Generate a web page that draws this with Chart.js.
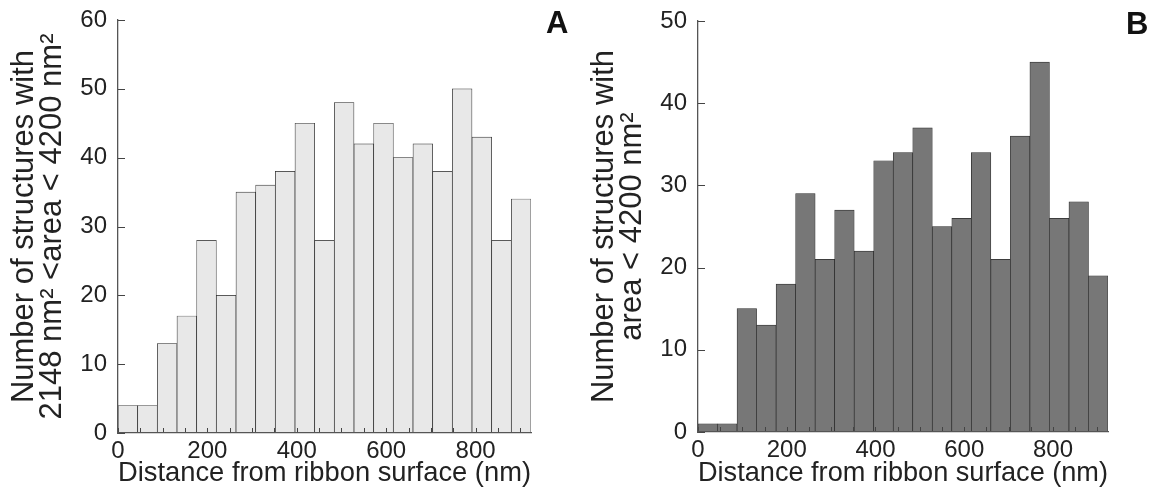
<!DOCTYPE html>
<html>
<head>
<meta charset="utf-8">
<script src="https://cdn.jsdelivr.net/npm/chart.js@4.4.1/dist/chart.umd.min.js"></script>
<style>
    html, body { margin: 0; padding: 0; background: #fff; }
    #wrap { position: relative; width: 1161px; height: 490px; overflow: hidden; }
    canvas { position: absolute; top: 0; }
    #chartA { left: 0; }
    #chartB { left: 580px; }
    .panel { position: absolute; font-family: 'Liberation Sans', Arial, sans-serif; font-weight: bold; font-size: 31px; line-height: 31px; color: #111; }
</style>
</head>
<body>
<div id="wrap">
    <canvas id="chartA" width="580" height="490"></canvas>
    <canvas id="chartB" width="581" height="490"></canvas>
    <div class="panel" style="left:546px; top:7px;">A</div>
    <div class="panel" style="left:1126px; top:8px;">B</div>
</div>
<script>
// bins: start of each 44 nm bin (nm)
const binWidth = 44;
const binStarts = [0, 44, 88, 132, 176, 220, 264, 308, 352, 396, 440, 484, 528, 572, 616, 660, 704, 748, 792, 836, 880];

// panel A: 2148 nm2 < area < 4200 nm2
const countsA = [4, 4, 13, 17, 28, 20, 35, 36, 38, 45, 28, 48, 42, 45, 40, 42, 38, 50, 43, 28, 34];
// panel B: area < 4200 nm2
const countsB = [1, 1, 15, 13, 18, 29, 21, 27, 22, 33, 34, 37, 25, 26, 34, 21, 36, 45, 26, 28, 19];

const xLabelTicks = [0, 200, 400, 600, 800];
const xMax = 924;

const titleA = ['Number of structures with', '2148 nm\u00B2 <area < 4200 nm\u00B2'];
const titleB = ['Number of structures with', 'area < 4200 nm\u00B2'];
const xTitle = 'Distance from ribbon surface (nm)';

Chart.defaults.font.family = "'Liberation Sans', Arial, sans-serif";
Chart.defaults.color = '#222';

// tick marks pointing into the plot, drawn on top of the bars
const innerTicks = {
    id: 'innerTicks',
    afterDatasetsDraw(chart) {
        const ctx = chart.ctx;
        const { x, y } = chart.scales;
        ctx.save();
        ctx.strokeStyle = '#444';
        ctx.lineWidth = 1;
        ctx.beginPath();
        x.ticks.forEach(t => {
            const px = Math.round(x.getPixelForValue(t.value)) + 0.5;
            ctx.moveTo(px, y.bottom);
            ctx.lineTo(px, y.bottom - 5);
        });
        y.ticks.forEach(t => {
            const py = Math.round(y.getPixelForValue(t.value)) + 0.5;
            ctx.moveTo(x.left, py);
            ctx.lineTo(x.left + 7, py);
        });
        ctx.stroke();
        ctx.restore();
    }
};

function makeHist(id, counts, yMax, yTitle, fill, box) {
    const points = binStarts.map((s, i) => ({ x: s + binWidth / 2, y: counts[i] }));
    return new Chart(document.getElementById(id), {
        type: 'bar',
        data: {
            datasets: [{
                data: points,
                backgroundColor: fill,
                borderColor: '#2a2a2a',
                borderWidth: 0.7,
                borderSkipped: 'bottom',
                barPercentage: 1,
                categoryPercentage: 1
            }]
        },
        options: {
            responsive: false,
            animation: false,
            devicePixelRatio: 1,
            layout: { padding: { top: box.top, right: box.right, left: 0, bottom: 0 } },
            plugins: { legend: { display: false }, tooltip: { enabled: false } },
            scales: {
                x: {
                    type: 'linear',
                    min: 0,
                    max: xMax,
                    offset: false,
                    grid: { display: false, drawTicks: false },
                    border: { display: true, z: 1, color: '#555', width: 1.3 },
                    ticks: {
                        stepSize: 50,
                        includeBounds: false,
                        autoSkip: false,
                        maxRotation: 0,
                        padding: 4,
                        font: { size: 24 },
                        callback: v => xLabelTicks.includes(v) ? String(v) : ''
                    },
                    title: { display: true, text: xTitle, font: { size: 27.5 }, padding: { top: 0, bottom: 0 } },
                    afterFit: s => {
                        s.height = box.xHeight;
                        s.paddingLeft = 0;
                        s.paddingRight = 0;
                    }
                },
                y: {
                    min: 0,
                    max: yMax,
                    grid: { display: false, drawTicks: false },
                    border: { display: true, z: 1, color: '#555', width: 1.3 },
                    ticks: { stepSize: 10, padding: 11, font: { size: 24 } },
                    title: { display: true, text: yTitle, font: { size: 31, lineHeight: 0.92 }, padding: { top: 10, bottom: 0 } },
                    afterFit: s => {
                        s.width = 118;
                        s.paddingTop = 0;
                        s.paddingBottom = 0;
                    }
                }
            }
        },
        plugins: [innerTicks]
    });
}

makeHist('chartA', countsA, 60, titleA, '#e8e8e8', { top: 20, right: 49, xHeight: 57 });
makeHist('chartB', countsB, 50, titleB, '#777777', { top: 21, right: 53, xHeight: 58 });
</script>
</body>
</html>
